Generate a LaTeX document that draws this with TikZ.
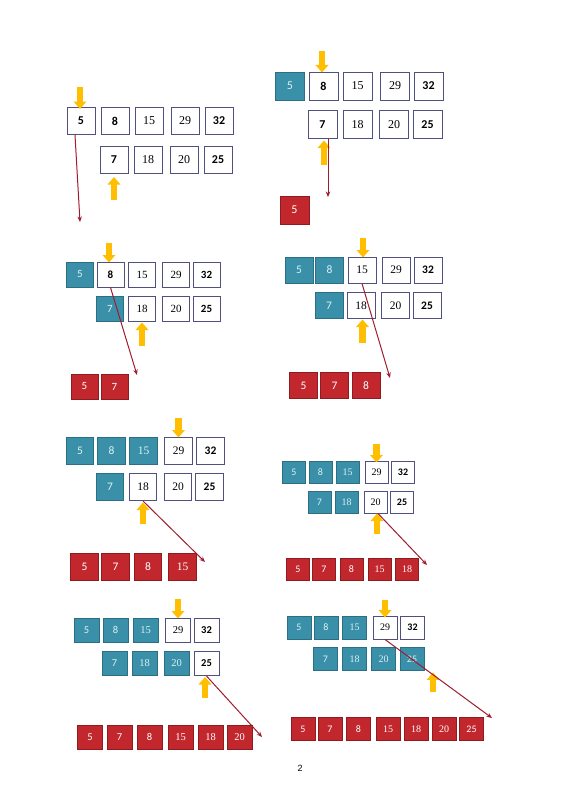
\documentclass[tikz,border=0pt]{standalone}
\usepackage{fontspec}
\setsansfont{Liberation Sans}
\newfontfamily\numsf{Carlito}
\newfontfamily\numrm{Liberation Serif}
\usetikzlibrary{arrows.meta}
\definecolor{boxline}{HTML}{50507E}
\definecolor{tealfill}{HTML}{3A90A8}
\definecolor{tealline}{HTML}{2C6E82}
\definecolor{tealtext}{HTML}{DDF0F4}
\definecolor{redfill}{HTML}{C1272D}
\definecolor{redline}{HTML}{8E1B20}
\definecolor{yel}{HTML}{FFBE00}
\definecolor{arr}{HTML}{9E1C2E}
\newcommand\valwt{\bfseries}
\newcommand\val[1]{\ifnum#1<10 {\numsf\valwt#1}\else\ifnum#1=25 {\numsf\valwt#1}\else\ifnum#1=32 {\numsf\valwt#1}\else{\numrm#1}\fi\fi\fi}
\begin{document}
\begin{tikzpicture}[x=1pt,y=-1pt,
    w/.style={draw=boxline,fill=white,line width=1pt,text=black},
    t/.style={draw=tealline,fill=tealfill,line width=0.8pt,text=tealtext,execute at begin node={\let\valwt\mdseries}},
    r/.style={draw=redline,fill=redfill,line width=0.8pt,text=white,execute at begin node={\let\valwt\mdseries}},
    yarr/.style={draw=yel,line width=6.5pt,-{Triangle[width=12.5pt,length=7.5pt]}},
    rarr/.style={draw=arr,line width=1pt,-{Stealth[length=5.5pt,width=4.5pt]}},
    bx/.style n args={3}{every node/.append style={minimum width=#1pt,minimum height=#2pt,inner sep=0pt,font=\fontsize{#3}{#3}\selectfont}}]
    \useasboundingbox (0,0) rectangle (565,800);
    \begin{scope}[bx={28}{27}{12}]
        \foreach \x/\v/\s [count=\i] in {81/5/w,115/8/w,149/15/w,185/29/w,219/32/w}
            \node[\s] (p1a\i) at (\x,121) {\val{\v}};
        \foreach \x/\v/\s [count=\i] in {114/7/w,148/18/w,184/20/w,218/25/w}
            \node[\s] (p1b\i) at (\x,160) {\val{\v}};
        \coordinate (p1e) at (80,222);
        \draw[yarr] ([xshift=-1pt,yshift=20pt]p1a1.north) -- ([xshift=-1pt,yshift=-2pt]p1a1.north);
        \draw[yarr] ([yshift=-26pt]p1b1.south) -- ([yshift=-3pt]p1b1.south);
        \draw[rarr] ([xshift=-6pt]p1a1.south) -- (p1e);
    \end{scope}
    \begin{scope}[bx={29}{28}{12}]
        \foreach \x/\v/\s [count=\i] in {290/5/t,323.5/8/w,357.5/15/w,395/29/w,428.5/32/w}
            \node[\s] (p2a\i) at (\x,86) {\val{\v}};
        \foreach \x/\v/\s [count=\i] in {322.5/7/w,357.5/18/w,394/20/w,427.5/25/w}
            \node[\s] (p2b\i) at (\x,124.5) {\val{\v}};
        \node[r] (p2c1) at (294.5,210) {\val{5}};
        \coordinate (p2e) at (328,197);
        \draw[yarr] ([xshift=-1.5pt,yshift=20pt]p2a2.north) -- ([xshift=-1.5pt,yshift=-1pt]p2a2.north);
        \draw[yarr] ([xshift=1.5pt,yshift=-26pt]p2b1.south) -- ([xshift=1.5pt,yshift=-1.5pt]p2b1.south);
        \draw[rarr] ([xshift=5.5pt]p2b1.south) -- (p2e);
    \end{scope}
    \begin{scope}[bx={27}{25}{11}]
        \foreach \x/\v/\s [count=\i] in {80/5/t,110.5/8/w,142/15/w,176/29/w,206.5/32/w}
            \node[\s] (p3a\i) at (\x,274.5) {\val{\v}};
        \foreach \x/\v/\s [count=\i] in {110/7/t,142/18/w,176/20/w,206.5/25/w}
            \node[\s] (p3b\i) at (\x,309) {\val{\v}};
        \foreach \x/\v/\s [count=\i] in {84.5/5/r,114.5/7/r}
            \node[\s] (p3c\i) at (\x,386.5) {\val{\v}};
        \coordinate (p3e) at (137,375);
        \draw[yarr] ([xshift=-1.5pt,yshift=19pt]p3a2.north) -- ([xshift=-1.5pt,yshift=-1pt]p3a2.north);
        \draw[yarr] ([yshift=-23.5pt]p3b2.south) -- ([yshift=-0.5pt]p3b2.south);
        \draw[rarr] (p3a2.south) -- (p3e);
    \end{scope}
    \begin{scope}[bx={28}{26}{11.5}]
        \foreach \x/\v/\s [count=\i] in {299/5/t,329.5/8/t,362/15/w,396/29/w,428/32/w}
            \node[\s] (p4a\i) at (\x,270) {\val{\v}};
        \foreach \x/\v/\s [count=\i] in {329/7/t,361/18/w,395.5/20/w,427/25/w}
            \node[\s] (p4b\i) at (\x,305.5) {\val{\v}};
        \foreach \x/\v/\s [count=\i] in {303.5/5/r,334.5/7/r,366/8/r}
            \node[\s] (p4c\i) at (\x,385.5) {\val{\v}};
        \coordinate (p4e) at (390,378);
        \draw[yarr] ([xshift=1pt,yshift=19pt]p4a3.north) -- ([xshift=1pt,yshift=-1pt]p4a3.north);
        \draw[yarr] ([xshift=1.5pt,yshift=-23.5pt]p4b2.south) -- ([xshift=1.5pt,yshift=-0.5pt]p4b2.south);
        \draw[rarr] (p4a3.south) -- (p4e);
    \end{scope}
    \begin{scope}[bx={27.5}{27}{11.5}]
        \foreach \x/\v/\s [count=\i] in {80/5/t,111.5/8/t,143.5/15/t,178.5/29/w,210.5/32/w}
            \node[\s] (p5a\i) at (\x,450.5) {\val{\v}};
        \foreach \x/\v/\s [count=\i] in {110/7/t,143/18/w,178/20/w,209.5/25/w}
            \node[\s] (p5b\i) at (\x,487) {\val{\v}};
        \foreach \x/\v/\s [count=\i] in {84.5/5/r,115.5/7/r,148/8/r,182.5/15/r}
            \node[\s] (p5c\i) at (\x,567) {\val{\v}};
        \coordinate (p5e) at (205,562);
        \draw[yarr] ([yshift=19pt]p5a4.north) -- ([yshift=-1pt]p5a4.north);
        \draw[yarr] ([yshift=-22.5pt]p5b2.south) -- ([yshift=-1.5pt]p5b2.south);
        \draw[rarr] (p5b2.south) -- (p5e);
    \end{scope}
    \begin{scope}[bx={23}{22}{10}]
        \foreach \x/\v/\s [count=\i] in {294/5/t,320.5/8/t,347.5/15/t,376.5/29/w,403/32/w}
            \node[\s] (p6a\i) at (\x,472) {\val{\v}};
        \foreach \x/\v/\s [count=\i] in {319.5/7/t,346.5/18/t,375.5/20/w,402/25/w}
            \node[\s] (p6b\i) at (\x,502) {\val{\v}};
        \foreach \x/\v/\s [count=\i] in {298/5/r,324/7/r,351.5/8/r,379.5/15/r,407/18/r}
            \node[\s] (p6c\i) at (\x,569) {\val{\v}};
        \coordinate (p6e) at (427,565);
        \draw[yarr] ([yshift=17pt]p6a4.north) -- ([yshift=-2pt]p6a4.north);
        \draw[yarr] ([xshift=1.5pt,yshift=-20pt]p6b3.south) -- ([xshift=1.5pt]p6b3.south);
        \draw[rarr] ([xshift=2.5pt]p6b3.south) -- (p6e);
    \end{scope}
    \begin{scope}[bx={25}{24}{10.5}]
        \foreach \x/\v/\s [count=\i] in {86.5/5/t,115.5/8/t,145.5/15/t,178/29/w,206.5/32/w}
            \node[\s] (p7a\i) at (\x,630) {\val{\v}};
        \foreach \x/\v/\s [count=\i] in {114.5/7/t,144.5/18/t,176.5/20/t,206.5/25/w}
            \node[\s] (p7b\i) at (\x,663.5) {\val{\v}};
        \foreach \x/\v/\s [count=\i] in {90/5/r,119.5/7/r,149.5/8/r,180.5/15/r,210.5/18/r,239.5/20/r}
            \node[\s] (p7c\i) at (\x,737) {\val{\v}};
        \coordinate (p7e) at (262,737);
        \draw[yarr] ([yshift=19pt]p7a4.north) -- ([yshift=-1pt]p7a4.north);
        \draw[yarr] ([xshift=-1.5pt,yshift=-21.5pt]p7b4.south) -- ([xshift=-1.5pt,yshift=-1pt]p7b4.south);
        \draw[rarr] (p7b4.south) -- (p7e);
    \end{scope}
    \begin{scope}[bx={24}{23}{10}]
        \foreach \x/\v/\s [count=\i] in {299/5/t,326/8/t,354.5/15/t,385/29/w,412.5/32/w}
            \node[\s] (p8a\i) at (\x,627.5) {\val{\v}};
        \foreach \x/\v/\s [count=\i] in {325.5/7/t,354.5/18/t,383.5/20/t,412/25/t}
            \node[\s] (p8b\i) at (\x,659) {\val{\v}};
        \foreach \x/\v/\s [count=\i] in {303/5/r,330/7/r,358.5/8/r,388/15/r,416/18/r,444/20/r,471.5/25/r}
            \node[\s] (p8c\i) at (\x,729) {\val{\v}};
        \coordinate (p8e) at (492,718);
        \draw[yarr] ([yshift=16pt]p8a4.north) -- ([yshift=-2pt]p8a4.north);
        \draw[yarr] ([xshift=21pt,yshift=-21.5pt]p8b4.south) -- ([xshift=21pt,yshift=-1.5pt]p8b4.south);
        \draw[rarr] (p8a4.south) -- (p8e);
    \end{scope}
    \node[font=\sffamily\fontsize{9}{9}\selectfont] (pg) at (300,768) {2};
\end{tikzpicture}
\end{document}
